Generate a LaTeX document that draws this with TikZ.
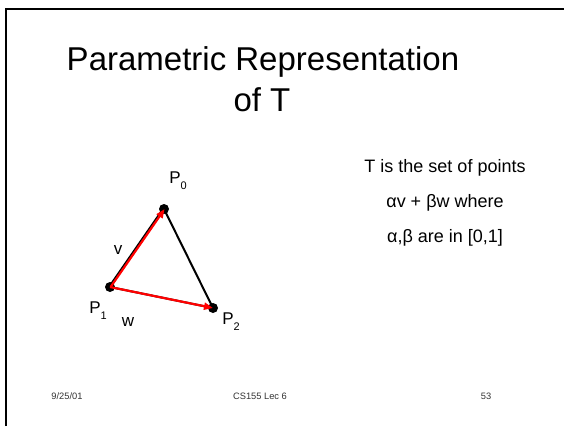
\documentclass[tikz,border=0pt]{standalone}
\usepackage{fontspec}
\setmainfont{Liberation Sans}
\usetikzlibrary{arrows.meta}
\newcommand\subs[1]{\raisebox{-0.35em}{\fontsize{11}{11}\selectfont #1}}
\begin{document}
\begin{tikzpicture}[x=1pt,y=-1pt,
  dot/.style={circle,fill=black,inner sep=0pt,minimum size=10pt},
  lbl/.style={inner sep=0pt,font=\fontsize{17}{20}\selectfont},
  rtext/.style={inner sep=0pt,font=\fontsize{18}{21}\selectfont},
  title/.style={inner sep=0pt,font=\fontsize{33}{38}\selectfont},
  foot/.style={inner sep=0pt,text=black!80,font=\fontsize{9.3}{11}\selectfont},
  edge/.style={line width=2pt,black},
  vec/.style={line width=2.2pt,red,-{Triangle[length=9pt,width=7pt]}}]
\useasboundingbox[fill=white] (0,0) rectangle (564,426);
\draw[line width=2pt] (6,426) -- (6,9) -- (564,9);
\node[title] (t1) at (263,62) {Parametric Representation};
\node[title] (t2) at (262,100) {of T};
\node[rtext] (r1) at (445,168) {T is the set of points};
\node[rtext] (r2) at (445,203) {αv + βw where};
\node[rtext] (r3) at (445,238) {α,β are in [0,1]};
\node[dot] (p0) at (164,209) {};
\node[dot] (p1) at (110,287) {};
\node[dot] (p2) at (213,308) {};
\draw[edge] (p0.center) -- (p2.center);
\draw[edge] ([xshift=-1pt]p1.center) -- ([xshift=-1pt]p0.center);
\draw[edge] (p1.center) -- (p2.center);
\draw[vec] ([xshift=0.6pt]p1.center) -- ([xshift=0.6pt]p0.center);
\draw[vec] (p1.center) -- (p2.center);
\node[lbl] (l0) at (178,181) {P\subs{0}};
\node[lbl] (lv) at (118,250) {v};
\node[lbl] (l1) at (98,311) {P\subs{1}};
\node[lbl] (lw) at (128,322) {w};
\node[lbl] (l2) at (231,322) {P\subs{2}};
\node[foot] (f1) at (67,396) {9/25/01};
\node[foot] (f2) at (260,396) {CS155 Lec 6};
\node[foot] (f3) at (486,396) {53};
\end{tikzpicture}
\end{document}
